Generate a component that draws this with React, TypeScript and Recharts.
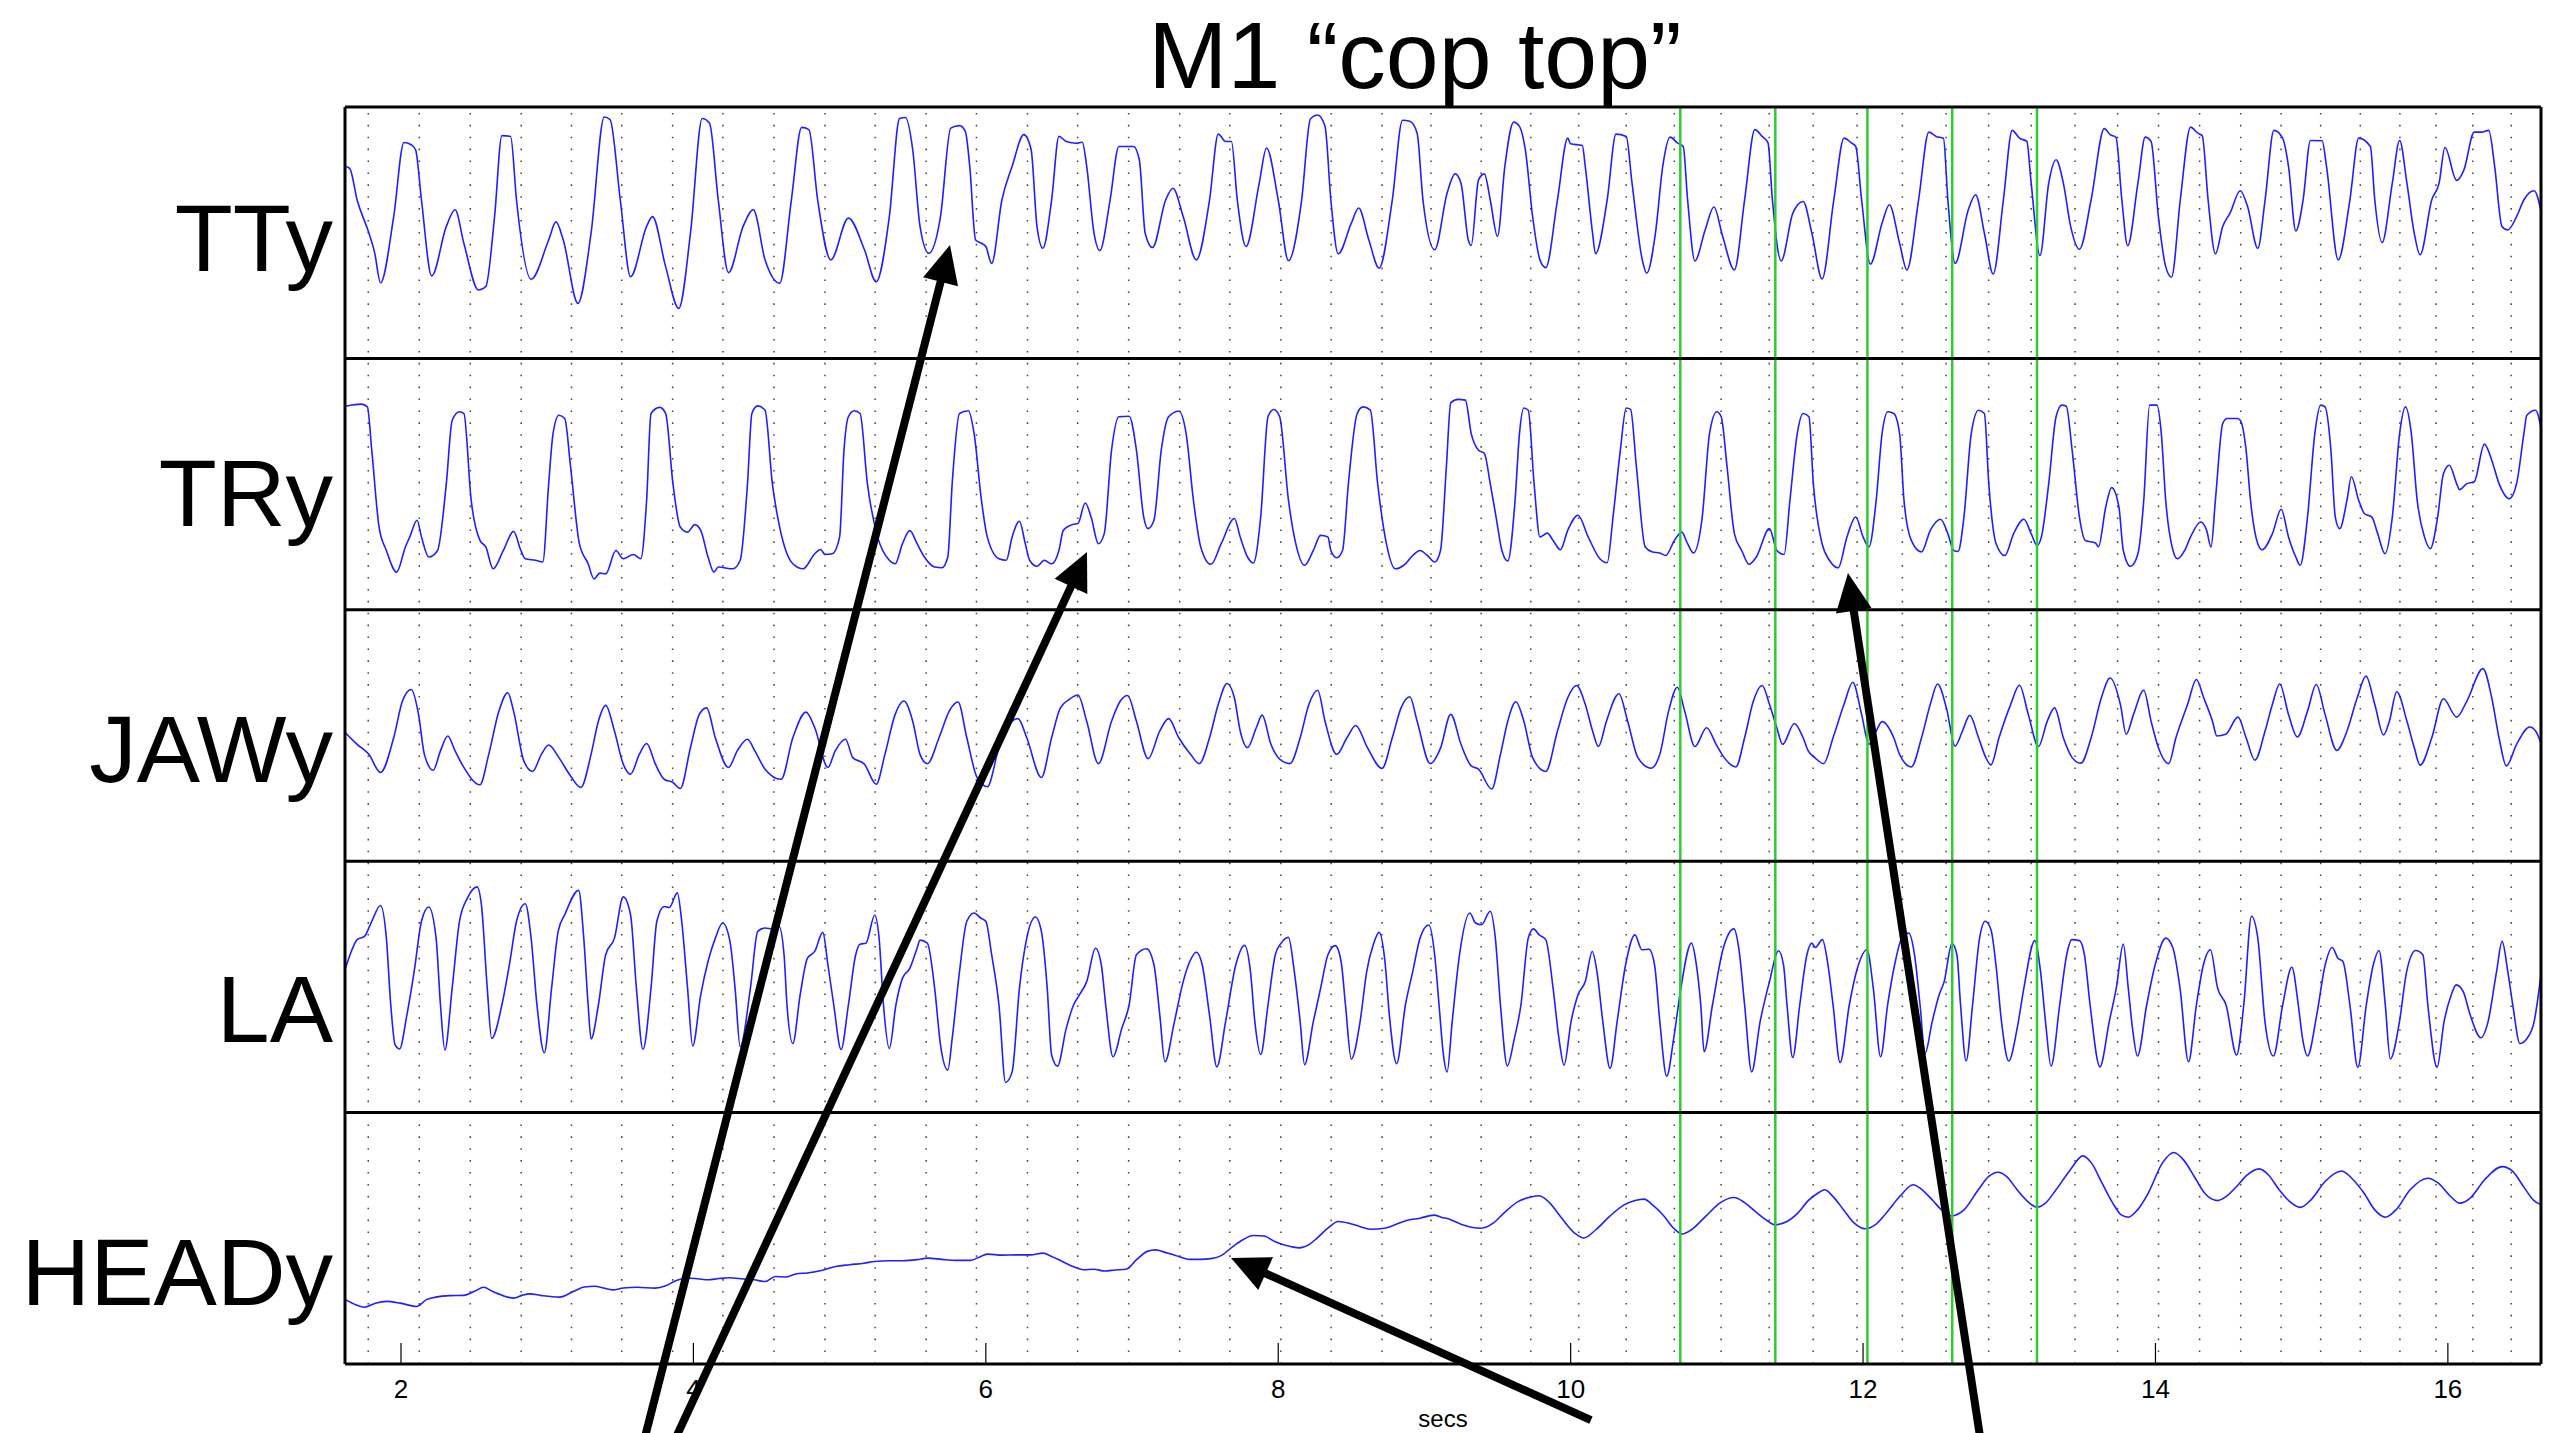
import React from 'react';
import { LineChart, Line, XAxis, YAxis, ReferenceLine } from 'recharts';

// time axis (secs)
const X_MIN = 1.617;
const X_MAX = 16.637;
const TICKS = [2, 4, 6, 8, 10, 12, 14, 16];

// metronome beats (dotted verticals) and the green marker lines
const BEATS = [1.776, 2.125, 2.474, 2.822, 3.166, 3.51, 3.858, 4.202, 4.551, 4.9, 5.243, 5.592, 5.936, 6.285, 6.628, 6.977, 7.326, 7.669, 8.018, 8.362, 8.71, 9.045, 9.388, 9.727, 10.055, 10.38, 10.709, 11.029, 11.358, 11.659, 11.959, 12.269, 12.568, 12.859, 13.15, 13.45, 13.741, 14.021, 14.302, 14.583, 14.859, 15.13, 15.401, 15.672, 15.919, 16.171, 16.433];
const GREEN = [10.75, 11.4, 12.03, 12.61, 13.19];

const LABELS = ['TTy', 'TRy', 'JAWy', 'LA', 'HEADy'];

// [secs, position in % of panel height]
const TTY = [[1.62,76.4],[1.65,75.5],[1.7,63],[1.78,50],[1.82,42],[1.86,30.1],[1.95,56.4],[2.02,85.9],[2.07,85],[2.1,83],[2.14,63],[2.21,32.8],[2.31,52.5],[2.37,59.1],[2.43,45.8],[2.53,27.2],[2.58,28.6],[2.64,56.4],[2.69,88.6],[2.75,88.3],[2.79,63],[2.89,31.5],[3.01,47.1],[3.06,54.3],[3.11,47.1],[3.21,21.9],[3.3,49.8],[3.39,96],[3.43,95],[3.5,63],[3.57,32.5],[3.68,52.5],[3.72,56.4],[3.81,36.5],[3.9,19.9],[3.98,49.8],[4.06,95.4],[4.11,93.6],[4.17,63],[4.24,34.1],[4.34,52.5],[4.41,59.1],[4.49,39.2],[4.59,29.9],[4.67,63],[4.74,91.9],[4.79,91],[4.85,63],[4.94,39.2],[5.06,55.8],[5.17,43.2],[5.25,30.5],[5.34,56.4],[5.41,95.4],[5.45,95.8],[5.5,83],[5.55,52.5],[5.61,41.8],[5.69,56.4],[5.76,91.6],[5.82,92.6],[5.86,90.3],[5.89,76.4],[5.93,47.1],[5.97,45.8],[6,44.5],[6.04,37.8],[6.11,63],[6.18,76.4],[6.26,89],[6.31,83],[6.35,52.5],[6.39,43.8],[6.45,63],[6.5,88.3],[6.55,86.3],[6.62,85.6],[6.66,86],[6.69,76.4],[6.74,49.8],[6.78,42.9],[6.85,63],[6.91,84.3],[7.01,84.3],[7.05,79],[7.09,49.8],[7.14,44.1],[7.23,63],[7.28,67.7],[7.35,56.4],[7.44,39.2],[7.53,63],[7.59,89.2],[7.64,86.3],[7.68,86.3],[7.72,63],[7.78,44.5],[7.87,69.7],[7.92,83.7],[8,63],[8.07,38.9],[8.16,63],[8.22,95.2],[8.27,96.8],[8.32,92.3],[8.36,63],[8.41,41.6],[8.5,53.8],[8.55,59.8],[8.62,47.1],[8.69,35.9],[8.78,63],[8.85,94.7],[8.9,94.3],[8.95,89.6],[8.99,63],[9.07,43.2],[9.155,65.7],[9.21,73.4],[9.25,69.7],[9.3,47.1],[9.32,44.9],[9.37,71],[9.41,73.4],[9.45,63.1],[9.5,48.5],[9.55,76.4],[9.61,94],[9.65,92.3],[9.69,83],[9.74,56.4],[9.79,39.2],[9.83,36.1],[9.91,63.1],[9.98,87.6],[10,85.4],[10.08,84.7],[10.1,76.4],[10.15,49.8],[10.17,41.6],[10.25,63.1],[10.31,89.2],[10.38,88.3],[10.42,69.7],[10.49,39.2],[10.52,33.9],[10.58,49.8],[10.63,76.4],[10.68,88],[10.73,85.7],[10.77,84.3],[10.8,63.1],[10.85,38.8],[10.92,51.1],[10.98,60.2],[11.04,48.5],[11.12,35.2],[11.19,63.1],[11.26,91],[11.31,88.3],[11.35,85.7],[11.38,63.1],[11.44,38.8],[11.52,57.8],[11.59,62.4],[11.65,49.8],[11.72,31.6],[11.8,63.1],[11.87,87.6],[11.92,85.7],[11.95,84.3],[11.99,63.1],[12.05,37.5],[12.13,53.8],[12.18,61.1],[12.25,45.8],[12.3,35.2],[12.38,63.1],[12.45,90],[12.5,88.3],[12.55,87.6],[12.58,63.1],[12.63,37.8],[12.72,59.1],[12.77,65.1],[12.83,49.8],[12.89,33.6],[12.96,63.1],[13.02,90.7],[13.07,87.6],[13.12,86.3],[13.15,69.7],[13.21,40.9],[13.27,69.7],[13.32,79],[13.37,69.7],[13.42,52.5],[13.48,43.4],[13.56,63.1],[13.65,91.4],[13.69,89],[13.73,87.9],[13.77,63.1],[13.81,44.8],[13.88,69.7],[13.93,88],[13.97,86.3],[14.02,56.4],[14.07,36.5],[14.11,32.3],[14.17,63.1],[14.24,92],[14.29,89.6],[14.32,88.6],[14.36,63.1],[14.41,41.6],[14.46,52.5],[14.51,57.8],[14.58,66.7],[14.63,60.4],[14.7,43.8],[14.75,63.1],[14.81,90.7],[14.87,87.6],[14.91,76.4],[14.96,50.7],[15.01,63.1],[15.06,86.7],[15.14,86.6],[15.17,76.4],[15.25,39.2],[15.33,63.1],[15.39,87.6],[15.47,84.3],[15.5,63.1],[15.55,46.1],[15.62,69.7],[15.67,86.7],[15.72,69.7],[15.77,49.8],[15.81,41.2],[15.89,63.1],[15.94,69.7],[15.98,83.9],[16.06,70.8],[16.11,75],[16.18,90],[16.23,90],[16.28,90.7],[16.32,76.4],[16.37,52.5],[16.41,51.1],[16.47,56.4],[16.52,63.1],[16.59,66.7],[16.64,57.8]];

const TRY = [[1.62,81],[1.73,81.8],[1.77,80.7],[1.8,63.5],[1.85,32.9],[1.9,23.6],[1.97,15],[2.03,25],[2.06,29],[2.11,35.6],[2.14,29],[2.19,21],[2.25,23.6],[2.31,50.2],[2.35,75.4],[2.4,78.8],[2.43,78.1],[2.48,43.6],[2.54,27.6],[2.58,25],[2.63,16.3],[2.7,23.6],[2.77,31.2],[2.82,23.6],[2.85,20.3],[2.92,19.7],[2.97,19],[3.01,50.2],[3.04,70.1],[3.08,77.4],[3.12,76.1],[3.16,56.8],[3.22,26.3],[3.28,18.3],[3.32,12.3],[3.36,14.6],[3.4,14.3],[3.47,23.6],[3.52,20.3],[3.59,22],[3.64,20.3],[3.68,43.6],[3.71,78.1],[3.77,80.5],[3.81,78.1],[3.86,50.2],[3.91,32.9],[3.96,30.9],[4.01,33.9],[4.05,31.6],[4.1,21],[4.14,15],[4.17,17],[4.27,16.3],[4.32,19.7],[4.37,50.2],[4.4,78.1],[4.44,81.1],[4.49,79.4],[4.54,50.2],[4.59,32.9],[4.68,18.3],[4.75,16.3],[4.83,22.3],[4.87,24],[4.9,22],[4.95,22.3],[5,29],[5.03,63.5],[5.06,76.8],[5.1,79.2],[5.14,78.1],[5.19,50.2],[5.26,29],[5.34,19.7],[5.38,18.3],[5.43,26.3],[5.48,31.5],[5.53,26.3],[5.58,21],[5.65,17],[5.7,16.7],[5.74,21],[5.77,50.2],[5.82,78.1],[5.88,79.2],[5.92,70.1],[5.97,43.6],[6.01,29],[6.09,20.3],[6.14,19.7],[6.18,29],[6.23,35.2],[6.27,26.3],[6.3,19.7],[6.35,17.3],[6.4,19.7],[6.45,18.3],[6.5,23.6],[6.53,31.6],[6.6,34],[6.63,34.3],[6.68,42.5],[6.72,36.9],[6.77,26.3],[6.81,30.3],[6.86,63.5],[6.91,76.8],[6.98,77],[7.03,63.5],[7.08,36.9],[7.11,32.3],[7.15,35.6],[7.2,63.5],[7.25,76.8],[7.32,79],[7.37,70.1],[7.42,43.6],[7.47,25],[7.54,18.1],[7.61,26.3],[7.7,36.3],[7.74,29],[7.79,21],[7.83,18.6],[7.88,36.9],[7.93,76.8],[7.97,79.7],[8.01,76.8],[8.07,43.6],[8.12,26.3],[8.18,17.7],[8.24,23.6],[8.29,29.6],[8.34,29],[8.36,23.6],[8.4,20.7],[8.44,23.6],[8.48,50.2],[8.54,78.1],[8.58,80.7],[8.63,79.4],[8.68,50.2],[8.74,26.3],[8.8,16.3],[8.87,18.3],[8.92,21.6],[8.97,23.6],[9.02,21.6],[9.07,19],[9.11,23.6],[9.15,56.8],[9.18,82.3],[9.23,83.7],[9.28,83.4],[9.32,70.1],[9.37,63.5],[9.41,62.2],[9.45,50.2],[9.49,36.9],[9.53,23.6],[9.57,19.4],[9.62,43.6],[9.65,70.1],[9.68,80.3],[9.71,79.4],[9.75,50.2],[9.79,29],[9.84,30.5],[9.88,27.6],[9.93,23.9],[9.98,31.6],[10.05,37.6],[10.12,29],[10.2,20.3],[10.25,18.7],[10.29,36.9],[10.34,63.5],[10.38,80.3],[10.41,79.7],[10.45,56.8],[10.51,25],[10.56,23],[10.61,22.6],[10.65,21.6],[10.71,27.6],[10.76,30.9],[10.8,26.3],[10.84,22.6],[10.9,36.9],[10.95,70.1],[11,78.8],[11.03,76.8],[11.07,56.8],[11.12,30.3],[11.17,23.6],[11.22,18.1],[11.27,21],[11.36,32.3],[11.41,23.6],[11.46,22],[11.5,43.6],[11.55,70.1],[11.59,78.1],[11.63,76.8],[11.66,50.2],[11.72,26.3],[11.77,19.7],[11.83,16.7],[11.89,29],[11.95,36.9],[12,29],[12.04,25],[12.09,43.6],[12.13,70.1],[12.17,78.8],[12.21,78.1],[12.25,70.1],[12.28,43.6],[12.33,27.6],[12.4,23],[12.46,31.6],[12.53,36],[12.58,30.3],[12.62,23.6],[12.65,23.2],[12.69,36.9],[12.74,70.1],[12.79,79.4],[12.83,78.1],[12.86,50.2],[12.91,26.3],[12.97,21.6],[13.03,30.3],[13.1,36],[13.15,30.3],[13.19,25.6],[13.22,29],[13.27,50.2],[13.32,76.8],[13.36,81.4],[13.39,81],[13.43,63.5],[13.48,36.9],[13.52,27.6],[13.59,26.6],[13.61,25],[13.66,40.9],[13.7,48.6],[13.75,40.9],[13.78,23.6],[13.83,17.3],[13.88,22.3],[13.92,43.6],[13.96,81.4],[14.01,81.4],[14.04,70.1],[14.07,43.6],[14.12,23.6],[14.15,20.3],[14.2,23.6],[14.24,29],[14.31,34.9],[14.35,31.6],[14.38,25],[14.41,43.6],[14.46,74.1],[14.49,76.1],[14.56,76.1],[14.58,75.4],[14.62,63.5],[14.65,43.6],[14.7,26.3],[14.73,23.9],[14.8,30.3],[14.86,40],[14.91,29],[14.96,21],[14.99,17.7],[15.04,36.9],[15.09,70.1],[15.13,81.4],[15.16,80.7],[15.2,63.5],[15.23,36.9],[15.26,32.3],[15.31,43.6],[15.34,52.9],[15.39,43.6],[15.43,38.2],[15.48,36.9],[15.52,30.3],[15.57,22.3],[15.62,36.9],[15.67,70.1],[15.71,80.7],[15.75,70.1],[15.79,43.6],[15.84,29],[15.88,24.3],[15.93,36.9],[15.97,54.2],[16.01,57.5],[16.06,50.2],[16.08,47.8],[16.13,50.2],[16.18,50.9],[16.25,65.9],[16.3,59.5],[16.35,50.2],[16.42,44.2],[16.47,50.2],[16.52,70.1],[16.54,77.4],[16.6,79.4],[16.64,71.4]];

const JAWY = [[1.62,51.1],[1.7,46.5],[1.78,42.5],[1.86,35.3],[1.95,49.1],[2.01,63.7],[2.07,68.3],[2.12,58.4],[2.16,42.5],[2.22,36.2],[2.27,43.9],[2.32,49.8],[2.37,43.9],[2.43,37.3],[2.54,30.4],[2.6,42.5],[2.67,59.7],[2.73,67],[2.77,59.7],[2.84,39.9],[2.9,35.7],[2.96,42.5],[3.01,46.2],[3.08,41.2],[3.16,33.9],[3.23,29.3],[3.3,42.5],[3.35,55.7],[3.4,62],[3.46,51.8],[3.52,38.6],[3.57,34.6],[3.63,42.5],[3.68,46.8],[3.74,38.6],[3.8,32.6],[3.86,31.3],[3.91,28.9],[3.98,45.2],[4.04,58.4],[4.09,61],[4.15,49.1],[4.24,37.3],[4.3,43.9],[4.37,48.5],[4.42,43.9],[4.49,36.6],[4.6,32.6],[4.68,49.1],[4.77,59.3],[4.83,53.1],[4.92,37.3],[4.97,43.9],[5.04,48.5],[5.09,41.2],[5.17,38.6],[5.25,30.6],[5.31,42.5],[5.38,58.4],[5.44,63.7],[5.5,55.7],[5.55,42.5],[5.6,38.8],[5.68,49.1],[5.75,59.7],[5.81,63.3],[5.87,49.1],[5.94,33.3],[6.01,29.6],[6.09,45.2],[6.16,54.4],[6.22,56.7],[6.28,49.1],[6.38,33.3],[6.45,49.1],[6.51,61],[6.57,64.3],[6.63,66.1],[6.69,55.7],[6.77,38.8],[6.86,55.7],[6.92,63.7],[6.97,65.9],[7.03,55.7],[7.11,40.8],[7.19,51.8],[7.25,56.7],[7.32,49.1],[7.4,42.5],[7.46,38.8],[7.53,49.1],[7.59,62.4],[7.65,70.7],[7.7,65],[7.74,51.8],[7.79,45.2],[7.85,53.1],[7.89,58.1],[7.95,46.5],[8.01,40.6],[8.08,38.8],[8.15,49.1],[8.21,62.4],[8.27,68],[8.32,55.7],[8.4,42.5],[8.47,49.1],[8.53,54],[8.61,45.2],[8.71,36.9],[8.78,49.1],[8.84,61],[8.9,65.4],[8.95,55.7],[9.04,38.8],[9.11,45],[9.18,58.4],[9.25,46.5],[9.32,37.9],[9.37,36.6],[9.46,28.7],[9.52,42.5],[9.57,55.7],[9.625,63.4],[9.68,55.7],[9.74,41.2],[9.83,35.7],[9.91,51.8],[9.98,65],[10.04,69.9],[10.1,62.4],[10.15,51.8],[10.19,45.6],[10.245,55.7],[10.33,66.6],[10.39,55.7],[10.46,41.2],[10.55,37],[10.61,42.5],[10.67,59.7],[10.73,69.2],[10.78,59.7],[10.85,45.6],[10.93,53.1],[10.995,46.5],[11.05,41.2],[11.13,37.5],[11.19,49.1],[11.25,63.7],[11.31,69.9],[11.36,62.4],[11.41,53.1],[11.45,46.5],[11.53,54.8],[11.59,49.1],[11.625,43.9],[11.67,41.2],[11.73,38.8],[11.795,49.1],[11.87,62.4],[11.93,71.2],[11.99,58.4],[12.04,46.5],[12.09,51.8],[12.13,55.5],[12.21,49.1],[12.25,42.5],[12.33,37.5],[12.4,49.1],[12.46,62.4],[12.51,70.5],[12.57,61],[12.63,45.8],[12.68,51.8],[12.73,58],[12.79,49.1],[12.84,41.2],[12.875,38.3],[12.93,49.1],[13.01,62.4],[13.07,70],[13.13,58.4],[13.2,45.6],[13.26,55.7],[13.31,61],[13.37,49.1],[13.43,41.2],[13.49,39],[13.56,49.1],[13.63,65],[13.69,72.9],[13.76,62.4],[13.8,50.5],[13.85,58.4],[13.92,68],[13.97,55.7],[14.02,45.2],[14.09,38.8],[14.14,49.1],[14.22,62.4],[14.28,72.3],[14.33,65],[14.39,55.7],[14.42,49.8],[14.48,50.5],[14.565,57.3],[14.62,49.1],[14.68,40.2],[14.75,51.8],[14.8,62.4],[14.85,70.5],[14.91,58.4],[14.97,49.4],[15.04,59.7],[15.1,70.3],[15.16,58.4],[15.24,44.1],[15.31,51.8],[15.38,65],[15.44,73.6],[15.5,62.4],[15.56,50.2],[15.6,55.7],[15.65,67.4],[15.72,55.7],[15.77,45.2],[15.81,38.2],[15.89,49.1],[15.97,64.6],[16.06,57.3],[16.13,63.7],[16.24,76.6],[16.3,65],[16.35,49.1],[16.4,37.9],[16.47,46.5],[16.56,53.4],[16.6,51.8],[16.64,46.5]];

const LA = [[1.62,57.4],[1.66,64.1],[1.7,68.8],[1.75,70.1],[1.8,76.1],[1.86,82.4],[1.9,69.4],[1.93,42.8],[1.96,26.9],[1.99,25.3],[2.04,38.8],[2.09,56.1],[2.14,76.1],[2.19,81.8],[2.24,69.4],[2.27,42.8],[2.3,24.9],[2.35,49.5],[2.4,76.1],[2.455,85.4],[2.52,89.8],[2.55,82.7],[2.59,49.5],[2.62,29.5],[2.69,42.8],[2.745,60.1],[2.79,76.1],[2.85,83.1],[2.89,69.4],[2.93,42.8],[2.98,23.8],[3.03,49.5],[3.075,72.1],[3.12,78.7],[3.215,88.4],[3.25,69.4],[3.28,42.8],[3.3,29.3],[3.35,42.8],[3.4,62.8],[3.46,69.4],[3.52,85.8],[3.57,78.7],[3.61,49.5],[3.655,25.1],[3.71,49.5],[3.75,76.1],[3.8,82],[3.835,81.6],[3.89,87.4],[3.92,76.1],[3.96,49.5],[3.995,26.5],[4.05,46.8],[4.1,60.1],[4.15,69.4],[4.2,75.4],[4.25,68.1],[4.285,49.5],[4.32,26.2],[4.39,49.5],[4.44,72.1],[4.49,73.4],[4.54,73.1],[4.585,74.1],[4.62,62.8],[4.64,42.8],[4.68,27.5],[4.73,46.8],[4.78,61.4],[4.83,64.1],[4.885,71.7],[4.92,58.8],[4.96,42.8],[5.01,25.1],[5.06,42.8],[5.11,62.8],[5.14,67],[5.18,67.4],[5.24,78.5],[5.27,69.4],[5.3,42.8],[5.34,25.5],[5.385,42.8],[5.43,53.5],[5.48,57.4],[5.53,65.4],[5.55,68.6],[5.6,67.4],[5.65,49.5],[5.69,26.9],[5.74,16.9],[5.77,29.5],[5.82,56.1],[5.87,76.1],[5.92,79.4],[5.965,77.4],[6,76.1],[6.04,62.8],[6.09,42.8],[6.135,12],[6.18,16.2],[6.23,49.5],[6.28,69.4],[6.34,77.8],[6.38,72.1],[6.42,49.5],[6.45,22.9],[6.49,18.5],[6.55,33.5],[6.6,42.8],[6.64,46.8],[6.69,52.1],[6.75,65.4],[6.79,58.8],[6.82,42.8],[6.87,22.2],[6.93,33.5],[6.98,42.8],[7.03,62.8],[7.1,65.2],[7.15,58.8],[7.19,38.8],[7.225,20.2],[7.29,36.2],[7.35,52.1],[7.395,60.1],[7.44,63.8],[7.48,58.8],[7.53,38.8],[7.58,18.2],[7.64,36.2],[7.71,58.8],[7.77,66.5],[7.81,56.1],[7.84,36.2],[7.88,23.1],[7.93,42.8],[7.98,62.8],[8.02,67.4],[8.07,69.7],[8.11,56.1],[8.15,36.2],[8.18,19.1],[8.24,36.2],[8.29,49.5],[8.34,62.8],[8.39,66.4],[8.43,60.1],[8.46,42.8],[8.5,21.3],[8.56,36.2],[8.605,56.1],[8.65,66.8],[8.69,71.7],[8.73,60.1],[8.76,38.8],[8.81,19.5],[8.87,42.8],[8.92,56.1],[8.97,69.4],[9.03,74.6],[9.07,62.8],[9.1,42.8],[9.13,22.9],[9.155,16.2],[9.19,36.2],[9.24,62.8],[9.31,79.4],[9.35,75.4],[9.39,74.7],[9.45,80.1],[9.485,69.4],[9.52,42.8],[9.567,18.6],[9.615,29.5],[9.66,42.8],[9.71,69.4],[9.746,73.1],[9.785,70.7],[9.83,68.8],[9.88,49.5],[9.92,29.5],[9.955,18.9],[10.003,36.2],[10.05,46.8],[10.1,52.1],[10.148,64.1],[10.18,56.1],[10.22,36.2],[10.27,17.6],[10.318,36.2],[10.376,58.8],[10.44,70.7],[10.487,64.8],[10.536,65],[10.574,58.8],[10.61,36.2],[10.657,14.5],[10.705,29.5],[10.754,49.5],[10.826,67.4],[10.86,58.8],[10.89,42.8],[10.913,24.2],[10.97,42.8],[11.044,65.4],[11.117,73.1],[11.15,65.4],[11.19,42.8],[11.238,16.2],[11.296,36.2],[11.36,52.1],[11.422,64.4],[11.456,58.8],[11.48,42.8],[11.519,21.9],[11.567,42.8],[11.616,62.8],[11.65,67.4],[11.674,65.7],[11.722,68.8],[11.76,58.8],[11.795,42.8],[11.843,19.9],[11.906,42.8],[11.955,56.1],[12.027,64.8],[12.07,49.5],[12.12,22.2],[12.168,42.8],[12.216,58.8],[12.265,69.4],[12.313,71.4],[12.352,62.8],[12.39,42.8],[12.424,23.5],[12.473,36.2],[12.52,46.8],[12.555,52.1],[12.608,67.2],[12.642,62.8],[12.667,42.8],[12.705,20.5],[12.749,42.8],[12.797,69.4],[12.836,76.1],[12.875,72.7],[12.909,58.8],[12.947,36.2],[12.996,20.5],[13.054,33.5],[13.1,49.5],[13.175,68.4],[13.214,56.1],[13.248,36.2],[13.286,18.5],[13.345,42.8],[13.393,62.8],[13.427,68.8],[13.48,68.4],[13.514,62.8],[13.553,42.8],[13.62,18.2],[13.684,36.2],[13.732,49.5],[13.78,67],[13.814,49.5],[13.843,33.5],[13.877,22.5],[13.94,42.8],[13.998,58.8],[14.071,69.4],[14.12,65.4],[14.168,49.5],[14.226,20.2],[14.28,42.8],[14.328,58.8],[14.376,64.8],[14.425,49.5],[14.483,42.8],[14.555,22.9],[14.604,42.8],[14.657,78.1],[14.7,69.4],[14.749,36.2],[14.807,22.5],[14.87,42.8],[14.933,57.8],[14.977,42.8],[15.006,29.5],[15.04,22.5],[15.103,38.8],[15.161,58.8],[15.209,65.7],[15.248,61.4],[15.282,60.1],[15.33,42.8],[15.384,18],[15.442,42.8],[15.49,58.8],[15.529,64.5],[15.572,42.8],[15.606,21.3],[15.669,36.2],[15.718,56.1],[15.78,64.5],[15.829,62.8],[15.863,42.8],[15.926,18],[15.974,36.2],[16.023,46.8],[16.057,50.8],[16.105,48.1],[16.153,38.8],[16.226,29.8],[16.275,36.2],[16.333,56.1],[16.371,68.1],[16.41,56.1],[16.444,42.8],[16.493,27.5],[16.541,29.5],[16.59,36.2],[16.638,55.5]];

const HEADY = [[1.62,25.6],[1.69,23.6],[1.75,22.6],[1.825,24.2],[1.9,24.9],[1.995,24.2],[2.106,22.9],[2.174,25.6],[2.237,26.6],[2.334,27.2],[2.43,27.3],[2.503,28.9],[2.566,30.5],[2.624,28.9],[2.697,27.2],[2.77,26.2],[2.832,27.4],[2.881,27.9],[2.963,27.2],[3.084,26.6],[3.181,28.9],[3.254,30.6],[3.326,30.9],[3.385,30.2],[3.447,29.5],[3.52,30.2],[3.617,30.5],[3.738,30.2],[3.811,31.1],[3.883,33.2],[3.956,34.2],[4.029,33.9],[4.101,33.5],[4.174,34],[4.247,34.3],[4.343,33.8],[4.416,33.5],[4.489,32.8],[4.561,34.8],[4.634,34.6],[4.707,35.9],[4.779,36.2],[4.876,37.2],[4.973,38.8],[5.07,39.5],[5.167,40.1],[5.24,40.8],[5.336,41.1],[5.433,41.1],[5.53,41.5],[5.603,42.1],[5.7,41.6],[5.796,41.2],[5.893,41.2],[5.966,42.8],[6.014,43.7],[6.111,43.3],[6.208,43.4],[6.305,43.4],[6.392,44.1],[6.45,42.8],[6.523,40.8],[6.595,38.8],[6.668,37.5],[6.741,37.7],[6.813,37],[6.886,37.4],[6.959,37.7],[7.031,41.5],[7.104,44.8],[7.162,45.4],[7.225,44.4],[7.298,43.2],[7.395,41.6],[7.467,41.6],[7.54,41.9],[7.613,43.2],[7.685,46.5],[7.758,49.4],[7.83,51.1],[7.903,50.9],[7.976,48.7],[8.048,47.2],[8.145,46.2],[8.208,47.4],[8.266,50.1],[8.339,54],[8.411,56.7],[8.484,56],[8.557,54.7],[8.63,53.6],[8.727,54],[8.799,55.4],[8.872,57],[8.969,58],[9.066,59.2],[9.114,58.4],[9.18,57.4],[9.25,55.6],[9.32,54.4],[9.388,54],[9.47,56],[9.543,60],[9.64,64.6],[9.727,66.4],[9.785,66.9],[9.858,64],[9.93,58.7],[10.027,52.1],[10.09,50.1],[10.172,53.4],[10.27,58.9],[10.366,63.3],[10.44,65],[10.502,65.6],[10.56,63.3],[10.632,59.3],[10.705,54],[10.763,51.7],[10.826,53.4],[10.923,58.7],[11.02,64],[11.117,66.2],[11.19,64.2],[11.262,60.7],[11.335,57.4],[11.393,55.4],[11.48,56.7],[11.553,60],[11.625,65],[11.698,68.2],[11.737,69.3],[11.795,66.6],[11.867,61.3],[11.94,56],[12.013,53.8],[12.085,55.4],[12.158,60],[12.255,66.9],[12.342,71.3],[12.4,69.5],[12.473,65.3],[12.536,61.3],[12.604,58.9],[12.69,61.3],[12.788,69.3],[12.86,74.6],[12.923,76.3],[12.981,74.6],[13.054,69.3],[13.127,64.6],[13.19,62.4],[13.248,64],[13.32,69.3],[13.417,77.2],[13.504,82.8],[13.563,79.9],[13.635,71.9],[13.708,64],[13.766,59.3],[13.814,58.4],[13.877,61.3],[13.95,67.9],[14.047,79.9],[14.124,84.1],[14.192,81.2],[14.265,74.6],[14.337,67.9],[14.425,65],[14.483,66.6],[14.555,70.6],[14.628,75.2],[14.71,77.6],[14.773,75.2],[14.846,69.3],[14.919,64.6],[14.991,62.3],[15.064,65.3],[15.16,72.6],[15.272,76.8],[15.354,73.2],[15.427,67.9],[15.5,61.3],[15.572,58.4],[15.645,61.3],[15.742,69.3],[15.863,73.9],[15.935,71.9],[16.008,67.3],[16.08,64],[16.153,66],[16.25,73.2],[16.371,78.5],[16.444,76.6],[16.517,70.6],[16.589,65],[16.638,63.3]];

// annotation arrows: [secs, stacked value] tail -> tip (stack: panel k spans k*100..k*100+100 from the bottom)
const ARROWS = [
  { from: [3.646, -34.2], to: [5.755, 445.1] },
  { from: [3.841, -34.2], to: [6.692, 323.0] },
  { from: [10.139, -22.3], to: [7.677, 42.2] },
  { from: [12.814, -34.2], to: [11.897, 314.6] },
];

const W = 2561;
const H = 1433;
const FONT = '"Liberation Sans", Arial, Helvetica, sans-serif';
const BLUE = '#1f1fff';
const LABEL_Y = [271, 526, 782, 1042, 1305];

const SERIES = [TTY, TRY, JAWY, LA, HEADY];
const stacked = SERIES.map((pts, i) =>
  pts.map(([t, v]) => ({ t, y: v + (SERIES.length - 1 - i) * 100 }))
);

const AxisTick = (props: any) => {
  const { x, y, payload } = props;
  return (
    <g>
      <line x1={x} x2={x} y1={y} y2={y - 21} stroke="#000" strokeWidth={1.2} />
      <text x={x} y={y + 34} textAnchor="middle" fontSize={26} fontFamily={FONT} fill="#000">
        {payload.value}
      </text>
    </g>
  );
};

const ArrowShape = (props: any) => {
  const { x1, y1, x2, y2 } = props;
  const dx = x2 - x1;
  const dy = y2 - y1;
  const len = Math.hypot(dx, dy) || 1;
  const ux = dx / len;
  const uy = dy / len;
  const hl = 38;
  const hw = 18;
  const bx = x2 - ux * hl;
  const by = y2 - uy * hl;
  return (
    <g>
      <line x1={x1} y1={y1} x2={bx + ux * 4} y2={by + uy * 4} stroke="#000" strokeWidth={8} />
      <polygon
        points={`${x2},${y2} ${bx - uy * hw},${by + ux * hw} ${bx + uy * hw},${by - ux * hw}`}
        fill="#000"
      />
    </g>
  );
};

export default function App() {
  return (
    <div style={{ position: 'absolute', left: 0, top: 0, width: W, height: H, overflow: 'hidden', background: '#fff' }}>
      <LineChart width={W} height={H} margin={{ top: 107, right: 20, bottom: 0, left: 345 }}>
        <XAxis
          type="number"
          dataKey="t"
          domain={[X_MIN, X_MAX]}
          allowDataOverflow
          ticks={TICKS}
          interval={0}
          height={69}
          axisLine={false}
          tickLine={false}
          tickSize={0}
          tickMargin={0}
          tick={(p: any) => <AxisTick {...p} />}
        />
        <YAxis type="number" domain={[0, 500]} allowDataOverflow hide width={0} />

        {BEATS.map((b) => (
          <ReferenceLine key={`b${b}`} x={b} stroke="#444" strokeWidth={1.5} strokeDasharray="1.6 10.3" />
        ))}

        {stacked.map((d, i) => (
          <Line
            key={LABELS[i]}
            data={d}
            dataKey="y"
            type="monotone"
            stroke={BLUE}
            strokeWidth={1.6}
            dot={false}
            activeDot={false}
            isAnimationActive={false}
          />
        ))}

        {GREEN.map((g) => (
          <ReferenceLine key={`g${g}`} x={g} stroke="#2ecc2e" strokeWidth={2.5} />
        ))}

        {[100, 200, 300, 400].map((v) => (
          <ReferenceLine key={`s${v}`} y={v} stroke="#000" strokeWidth={3} />
        ))}
        <ReferenceLine y={0} stroke="#000" strokeWidth={3} />
        <ReferenceLine y={500} stroke="#000" strokeWidth={3} />
        <ReferenceLine x={X_MIN} stroke="#000" strokeWidth={3} />
        <ReferenceLine x={X_MAX} stroke="#000" strokeWidth={3} />

        {ARROWS.map((a, i) => (
          <ReferenceLine
            key={`a${i}`}
            segment={[{ x: a.from[0], y: a.from[1] }, { x: a.to[0], y: a.to[1] }]}
            ifOverflow="visible"
            stroke="#000"
            shape={(p: any) => <ArrowShape {...p} />}
          />
        ))}
      </LineChart>

      <svg
        width={W}
        height={H}
        style={{ position: 'absolute', left: 0, top: 0, pointerEvents: 'none' }}
      >
        <text x={1415} y={88} textAnchor="middle" fontSize={95} fontFamily={FONT} fill="#000">
          M1 “cop top”
        </text>
        {LABELS.map((l, i) => (
          <text key={l} x={333} y={LABEL_Y[i]} textAnchor="end" fontSize={95} fontFamily={FONT} fill="#000">
            {l}
          </text>
        ))}
        <text x={1443} y={1427} textAnchor="middle" fontSize={24} fontFamily={FONT} fill="#000">
          secs
        </text>
      </svg>
    </div>
  );
}
